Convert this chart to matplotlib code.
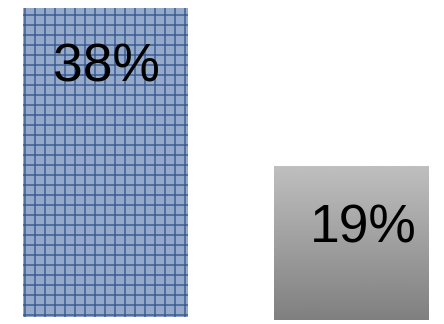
import numpy as np
import matplotlib.pyplot as plt

plt.rcParams['font.family'] = ['Liberation Sans', 'DejaVu Sans']
plt.rcParams['hatch.color'] = '#3b5d92'
plt.rcParams['hatch.linewidth'] = 0.9

# data
labels = ["A", "B"]
values = [38, 19]

fig = plt.figure(figsize=(3.7, 2.7), dpi=120)
# axes placed so 0..38 spans the bar area of the reference
ax = fig.add_axes([0.0, 1 - 317 / 324, 1.0, (317 - 8) / 324])
ax.axis("off")

bars = ax.bar([0, 1], values, width=[0.67, 0.63], bottom=[0, -0.4],
              color=["#95aacb", "#a0a0a0"], edgecolor="none")
bars[0].set_hatch("++")
bars[0].set_edgecolor("#3b5d92")
bars[0].set_linewidth(0)
bars[1].set_clip_on(False)

# vertical grey gradient for the second bar
b = bars[1]
x0, y0 = b.get_x(), b.get_y()
x1, y1 = x0 + b.get_width(), y0 + b.get_height()
grad = np.linspace(0.75, 0.5, 256).reshape(-1, 1)
im = ax.imshow(grad, extent=[x0, x1, y0, y1], origin="upper",
               cmap="gray", vmin=0, vmax=1, aspect="auto", zorder=2)
im.set_clip_path(b)
ax.set_ylim(0, 38)
ax.set_xlim(-0.43, 1.38)

offsets = [(1, -60), (12, -63)]
for bar, v, off in zip(bars, values, offsets):
    ax.annotate(f"{v}%", xy=(bar.get_x() + bar.get_width() / 2, bar.get_y() + v),
                xytext=off, textcoords="offset pixels",
                ha="center", va="center", fontsize=32, color="black", zorder=3)

fig.savefig("out.png", dpi=120)
